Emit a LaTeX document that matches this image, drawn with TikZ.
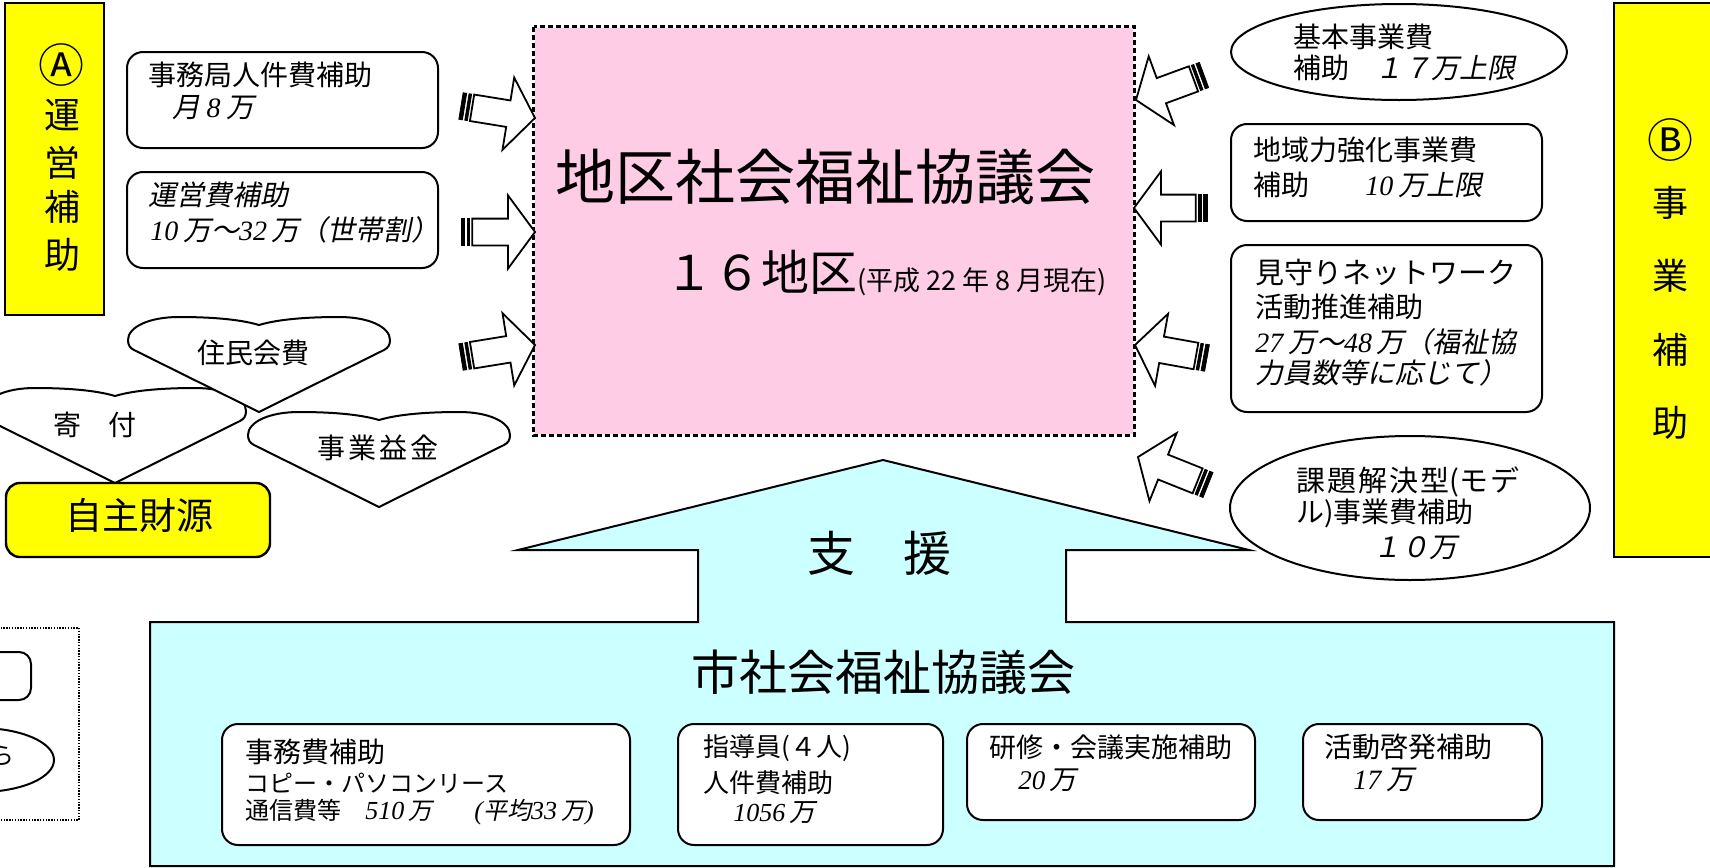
\documentclass[tikz,border=0pt]{standalone}
\usepackage{fontspec}
\setmainfont{Noto Sans CJK JP}
\newfontfamily\jpit{Noto Sans CJK JP}[FakeSlant=0.2]
\newfontfamily\tms{Liberation Serif}
\usetikzlibrary{calc,fit,shapes.geometric}
\definecolor{pinkbg}{RGB}{255,204,229}
\definecolor{cyanbg}{RGB}{204,255,255}
\definecolor{yel}{RGB}{255,255,0}
\newcommand\NumI[1]{{\tms\itshape #1}}
\newcommand\Jit[1]{{\jpit #1}}
\newcommand\fs[1]{\fontsize{#1}{#1}\selectfont}
\newcommand\StripeArrow[2]{%
  \coordinate (sah) at ($(#2)!13.5pt!(#1)$);
  \coordinate (sas) at ($(#1)!5.6pt!(#2)$);
  \coordinate (sa0) at (#1);
  \coordinate (sa1) at ($(#1)!1.8pt!(#2)$);
  \coordinate (sa2) at ($(#1)!3pt!(#2)$);
  \coordinate (sa3) at ($(#1)!4.3pt!(#2)$);
  \draw[arrowline] (#2) -- ($(sah)!18.3pt!90:(#2)$) -- ($(sah)!6.7pt!90:(#2)$)
     -- ($(sas)!6.7pt!90:(#2)$) -- ($(sas)!6.7pt!-90:(#2)$)
     -- ($(sah)!6.7pt!-90:(#2)$) -- ($(sah)!18.3pt!-90:(#2)$) -- cycle;
  \draw[line width=0.4pt, fill=black] ($(sa0)!6.7pt!90:(#2)$) -- ($(sa1)!6.7pt!90:(#2)$)
     -- ($(sa1)!6.7pt!-90:(#2)$) -- ($(sa0)!6.7pt!-90:(#2)$) -- cycle;
  \draw[line width=0.4pt, fill=black] ($(sa2)!6.7pt!90:(#2)$) -- ($(sa3)!6.7pt!90:(#2)$)
     -- ($(sa3)!6.7pt!-90:(#2)$) -- ($(sa2)!6.7pt!-90:(#2)$) -- cycle;
}
\begin{document}
\begin{tikzpicture}[x=0.5pt,y=-0.5pt,
  rbox/.style={draw, line width=1pt, rounded corners=8pt, fill=white, inner sep=0pt},
  ybox/.style={draw, line width=1.2pt, fill=yel, inner sep=0pt},
  txt/.style={anchor=west, inner sep=0pt, font=\fs{14pt}},
  ctxt/.style={inner sep=0pt, font=\fs{14pt}},
  arrowline/.style={line width=0.9pt, fill=white, line join=miter},
  heart/.pic={\draw[line width=1pt, fill=white] (0,8) .. controls (20,2) and (50,0) .. (80,0)
     .. controls (110,0) and (131,10) .. (131,23) .. controls (131,28) and (129,31) .. (125,33)
     -- (0,95) -- (-125,33) .. controls (-129,31) and (-131,28) .. (-131,23)
     .. controls (-131,10) and (-110,0) .. (-80,0) .. controls (-50,0) and (-20,2) .. (0,8) -- cycle;}
]
\useasboundingbox (0,0) rectangle (1710,868);
\clip (0,0) rectangle (1710,868);
\fill[white] (0,0) rectangle (1710,868);

% city council block with up arrow
\draw[line width=1pt, fill=cyanbg] (150,622) -- (698,622) -- (698,550) -- (518,550) -- (883,460)
  -- (1249,550) -- (1066,550) -- (1066,622) -- (1614,622) -- (1614,866) -- (150,866) -- cycle;
\node[font=\fs{24pt}, inner sep=0pt] (shien) at (879,553) {支\hspace{24pt}援};
\node[font=\fs{24pt}, inner sep=0pt] (city) at (883,672) {市社会福祉協議会};

% pink district council
\node[fit={(534,27) (1134,435)}, fill=pinkbg, inner sep=0pt] (pink) {};
\draw[white, line width=1.3pt] (pink.north west) rectangle (pink.south east);
\draw[black, line width=1.3pt, dash pattern=on 2.5pt off 1.5pt] (pink.north west) rectangle (pink.south east);
\node[font=\fs{30pt}, inner sep=0pt] (title) at (825,177) {地区社会福祉協議会};
\node[anchor=base west, inner sep=0pt] (sub) at (665,290) {{\fs{24pt}１６地区}{\fs{13.5pt}(平成 22 年 8 月現在)}};

% yellow side boxes
\node[ybox, fit={(5,3) (104,315)}] (boxA) {};
\node[font=\fs{23pt}, inner sep=0pt] (bA0) at (62,65) {Ⓐ};
\foreach \c/\y/\n in {運/115/1, 営/163/2, 補/207/3, 助/255/4}
  \node[font=\fs{18pt}, inner sep=0pt] (bA\n) at (62,\y) {\c};
\node[ybox, fit={(1614,3) (1716,557)}] (boxB) {};
\node[font=\fs{23pt}, inner sep=0pt] (bB0) at (1670,140) {Ⓑ};
\foreach \c/\y/\n in {事/203/1, 業/276/2, 補/350/3, 助/423/4}
  \node[font=\fs{18pt}, inner sep=0pt] (bB\n) at (1670,\y) {\c};

% left boxes
\node[rbox, fit={(127,52) (438,148)}] (b1) {};
\node[txt] (b1a) at (148,75) {事務局人件費補助};
\node[txt] (b1b) at (172,108) {\Jit{月} \NumI{8} \Jit{万}};
\node[rbox, fit={(127,172) (438,268)}] (b2) {};
\node[txt] (b2a) at (148,195) {\Jit{運営費補助}};
\node[txt] (b2b) at (150,230) {\NumI{10}\,\Jit{万～}\NumI{32}\,\Jit{万（世帯割）}};

% hearts
\pic at (115,388) {heart};
\pic at (259,317) {heart};
\pic at (379,412) {heart};
\node[ctxt] (h1) at (253,353) {住民会費};
\node[ctxt] (h2) at (95,425) {寄\hspace{13.5pt}付};
\node[ctxt] (h3) at (378,448) {事\hspace{1.5pt}業\hspace{1.5pt}益\hspace{1.5pt}金};
\node[ybox, rounded corners=7pt, fit={(6,483) (270,557)}] (jishu) {};
\node[font=\fs{18.5pt}, inner sep=0pt] (jishut) at (139,515) {自主財源};

% right side
\node[ellipse, draw, line width=1pt, fill=white, minimum width=168pt, minimum height=48pt, inner sep=0pt] (e1) at (1399,52) {};
\node[txt] (e1a) at (1293,37) {基本事業費};
\node[txt] (e1b) at (1293,68) {補助\hspace{13pt}\Jit{１７万上限}};
\node[rbox, fit={(1231,124) (1542,221)}] (r2) {};
\node[txt] (r2a) at (1253,150) {地域力強化事業費};
\node[txt] (r2b) at (1253,185) {補助\hspace{28pt}\NumI{10}\,\Jit{万上限}};
\node[rbox, fit={(1231,245) (1542,412)}] (r3) {};
\node[txt, font=\fs{14.5pt}] (r3a) at (1255,272) {見守りネットワーク};
\node[txt] (r3b) at (1255,307) {活動推進補助};
\node[txt] (r3c) at (1255,342) {\NumI{27}\,\Jit{万～}\NumI{48}\,\Jit{万（福祉協}};
\node[txt] (r3d) at (1255,373) {\Jit{力員数等に応じて）}};
\node[ellipse, draw, line width=1pt, fill=white, minimum width=180pt, minimum height=72pt, inner sep=0pt] (e2) at (1410,508) {};
\node[txt, font=\fs{14.5pt}] (e2a) at (1296,482) {課\hspace{1pt}題\hspace{1pt}解\hspace{1pt}決\hspace{1pt}型(モ\hspace{1pt}デ};
\node[txt] (e2b) at (1296,513) {ル)事業費補助};
\node[txt] (e2c) at (1373,548) {\Jit{１０万}};

% striped arrows
\coordinate (la1t) at (461,106); \coordinate (la1h) at (535,118);
\coordinate (la2t) at (461,232); \coordinate (la2h) at (535,232);
\coordinate (la3t) at (461,357); \coordinate (la3h) at (535,345);
\coordinate (ra1t) at (1204,75); \coordinate (ra1h) at (1136,100);
\coordinate (ra2t) at (1207,208); \coordinate (ra2h) at (1134,208);
\coordinate (ra3t) at (1207,358); \coordinate (ra3h) at (1135,345);
\coordinate (ra4t) at (1208,485); \coordinate (ra4h) at (1138,457);
\StripeArrow{la1t}{la1h}
\StripeArrow{la2t}{la2h}
\StripeArrow{la3t}{la3h}
\StripeArrow{ra1t}{ra1h}
\StripeArrow{ra2t}{ra2h}
\StripeArrow{ra3t}{ra3h}
\StripeArrow{ra4t}{ra4h}

% bottom boxes
\node[rbox, fit={(222,724) (630,845)}] (c1) {};
\node[txt] (c1a) at (245,752) {事務費補助};
\node[txt, font=\fs{12pt}] (c1b) at (245,783) {コピー・パソコンリース};
\node[txt, font=\fs{12pt}] (c1c) at (245,812) {通信費等\hspace{12pt}{\fs{13pt}\NumI{510}}\,\Jit{万}\hspace{21pt}{\fs{13pt}\NumI{(}}\Jit{平均}{\fs{13pt}\NumI{33}}\,\Jit{万}{\fs{13pt}\NumI{)}}};
\node[rbox, fit={(678,724) (943,845)}] (c2) {};
\node[txt, font=\fs{13pt}] (c2a) at (703,748) {指導員(４人)};
\node[txt, font=\fs{13pt}] (c2b) at (703,783) {人件費補助};
\node[txt, font=\fs{13pt}] (c2c) at (733,813) {\NumI{1056}\,\Jit{万}};
\node[rbox, fit={(967,724) (1255,820)}] (c3) {};
\node[txt, font=\fs{13.5pt}] (c3a) at (989,747) {研修・会議実施補助};
\node[txt, font=\fs{13.5pt}] (c3b) at (1018,780) {\NumI{20}\,\Jit{万}};
\node[rbox, fit={(1303,724) (1542,820)}] (c4) {};
\node[txt] (c4a) at (1324,747) {活動啓発補助};
\node[txt] (c4b) at (1353,780) {\NumI{17}\,\Jit{万}};

% partial legend at lower left
\draw[line width=0.7pt, dash pattern=on 0.7pt off 0.7pt] (-20,628) rectangle (79,820);
\node[rbox, rounded corners=6pt, fit={(-60,652) (31,700)}] (lg1) {};
\node[ellipse, draw, line width=1pt, fill=white, minimum width=74pt, minimum height=32pt, inner sep=0pt] (lg2) at (-20,760) {};
\node[ctxt, font=\fs{12pt}] (lg2t) at (2,756) {ら};
\end{tikzpicture}
\end{document}
